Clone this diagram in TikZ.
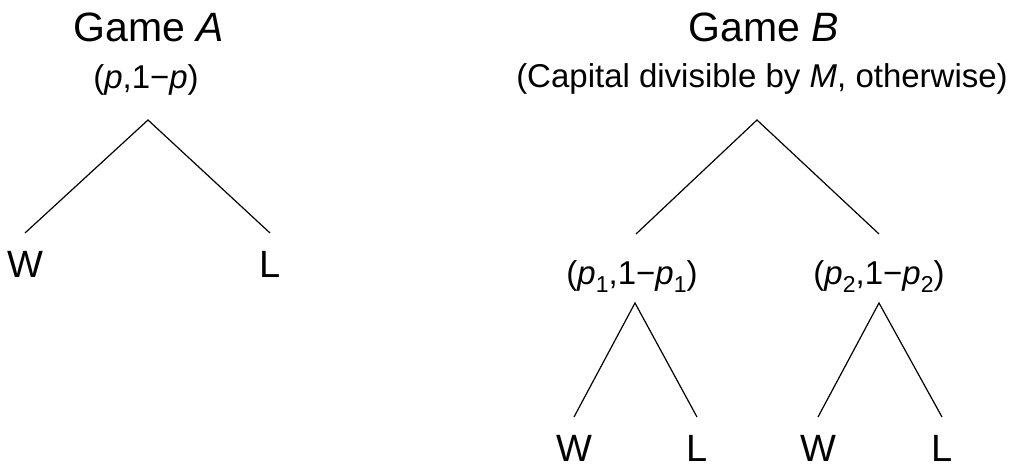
\documentclass[tikz,border=0pt]{standalone}
\usepackage{fontspec}
\setmainfont{Liberation Sans}
\newcommand{\sub}[1]{\raisebox{-0.45ex}{\fontsize{11.5}{12}\selectfont #1}}
\begin{document}
\begin{tikzpicture}[x=0.5pt, y=-0.5pt,
        txt/.style={anchor=base, inner sep=0pt, font=\fontsize{16.5}{19}\selectfont},
        title/.style={txt, font=\fontsize{20.5}{24}\selectfont},
        leaf/.style={txt, font=\fontsize{19}{22}\selectfont},
        branch/.style={line width=0.6pt, draw=black}
    ]
        \useasboundingbox (0,0) rectangle (1014,469);

        % Juego A: un solo nodo con dos ramas
        \node[title] (titleA) at (149,42) {Game \textit{A}};
        \node[txt] (probA) at (146,89) {(\textit{p},1−\textit{p})};
        \coordinate (rootA) at (148,120);
        \coordinate (endWA) at (25,233);
        \coordinate (endLA) at (270,233);
        \node[leaf] (wA) at (endWA |- 0,278) {W};
        \node[leaf] (lA) at (endLA |- 0,278) {L};
        \draw[branch] (endWA) -- (rootA) -- (endLA);

        % Juego B: raiz segun el capital, luego dos subarboles
        \node[title] (titleB) at (764,42) {Game \textit{B}};
        \node[txt] (probB) at (762,88) {(Capital divisible by \textit{M}, otherwise)};
        \coordinate (rootB) at (757,120);
        \coordinate (rootB1) at (636,234);
        \coordinate (rootB2) at (879,234);
        \draw[branch] (rootB1) -- (rootB) -- (rootB2);

        % Subarbol izquierdo
        \node[txt] (probB1) at (632,285) {(\textit{p}\sub{1},1−\textit{p}\sub{1})};
        \coordinate (topB1) at (635,303);
        \coordinate (endWB1) at (574,417);
        \coordinate (endLB1) at (697,417);
        \node[leaf] (wB1) at (endWB1 |- 0,462) {W};
        \node[leaf] (lB1) at (endLB1 |- 0,462) {L};
        \draw[branch] (endWB1) -- (topB1) -- (endLB1);

        % Subarbol derecho
        \node[txt] (probB2) at (879,285) {(\textit{p}\sub{2},1−\textit{p}\sub{2})};
        \coordinate (topB2) at (879,303);
        \coordinate (endWB2) at (818,417);
        \coordinate (endLB2) at (942,417);
        \node[leaf] (wB2) at (endWB2 |- 0,462) {W};
        \node[leaf] (lB2) at (endLB2 |- 0,462) {L};
        \draw[branch] (endWB2) -- (topB2) -- (endLB2);
    \end{tikzpicture}
\end{document}
